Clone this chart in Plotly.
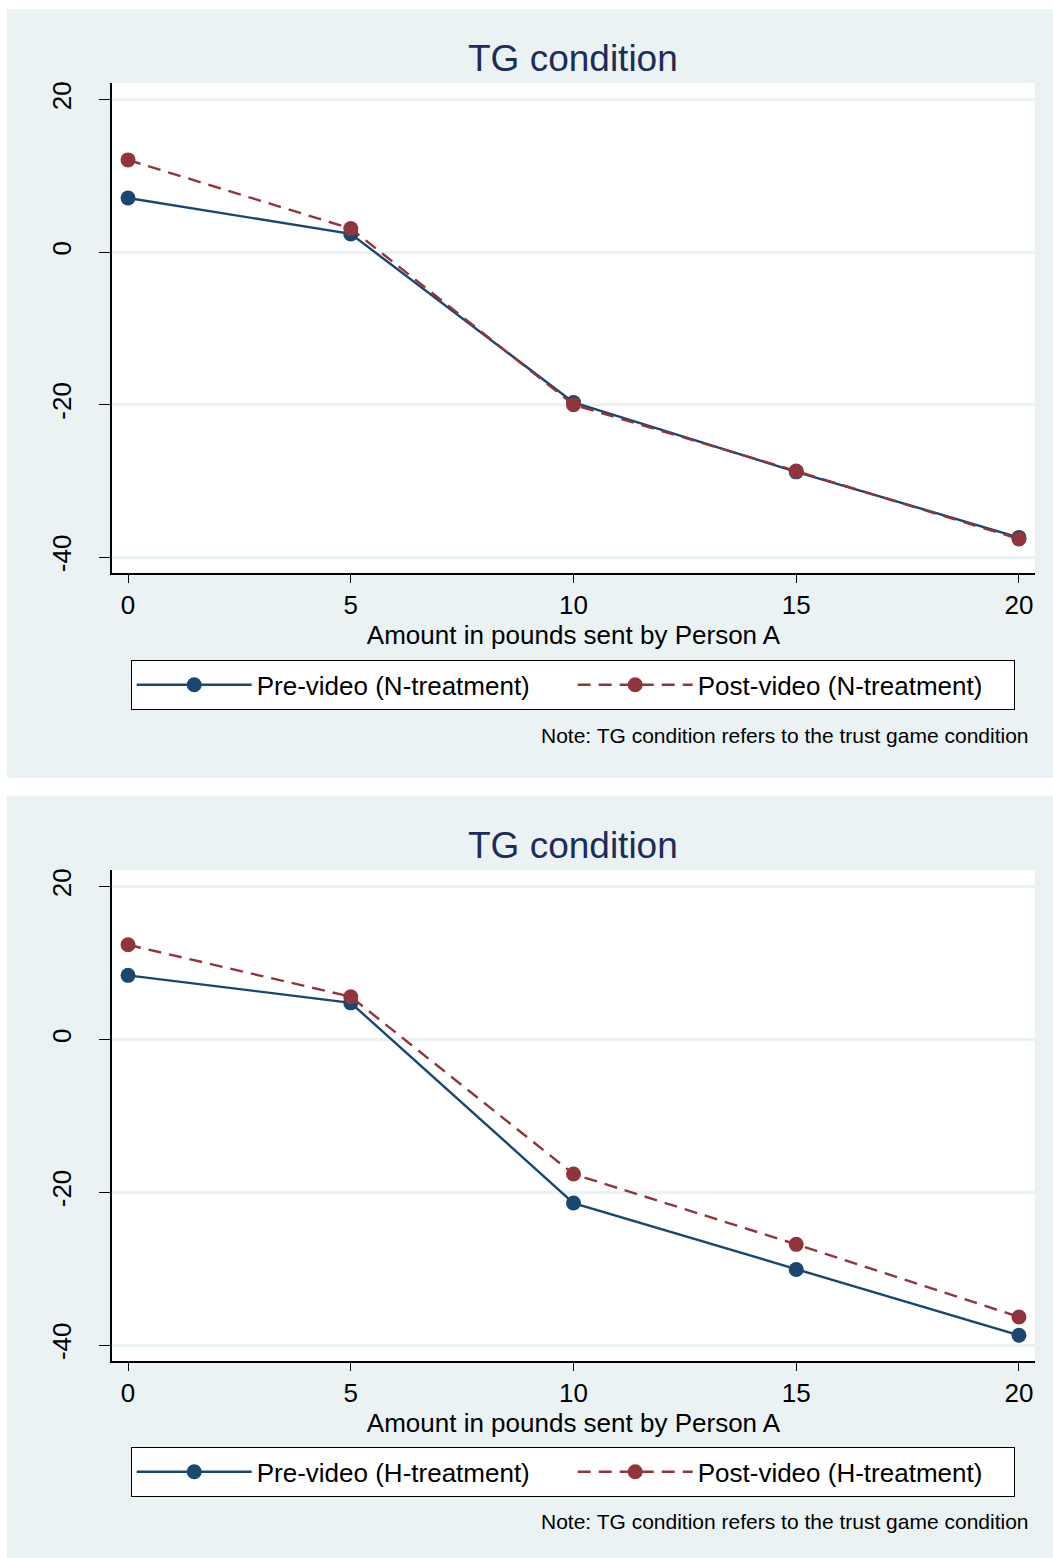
import plotly.graph_objects as go

amount = [0, 5, 10, 15, 20]
pre_n = [7.1, 2.4, -19.7, -28.8, -37.4]
post_n = [12.1, 3.1, -20.0, -28.7, -37.6]
pre_h = [8.4, 4.8, -21.4, -30.1, -38.7]
post_h = [12.4, 5.6, -17.6, -26.8, -36.3]

x_ticks = [0, 5, 10, 15, 20]
y_ticks = [-40, -20, 0, 20]
y_tick_labels = ["-40", "-20", "0", "20"]
title_text = "TG condition"
x_title = "Amount in pounds sent by Person A"
note_text = "Note: TG condition refers to the trust game condition"
names_top = ["Pre-video (N-treatment)", "Post-video (N-treatment)"]
names_bot = ["Pre-video (H-treatment)", "Post-video (H-treatment)"]

W, H = 1053, 1558
BLUE = "#1A476F"
RED = "#90353B"
BG = "#EAF2F3"
TITLE_C = "#1C2D57"
FONT = "Liberation Sans, Arial, sans-serif"

def px(v):
    return v / W

def py(v):
    return 1 - v / H

fig = go.Figure()

def add_pair(pre, post, names, xa, ya, leg):
    fig.add_trace(go.Scatter(x=amount, y=pre, mode="lines+markers", name=names[0],
                             line=dict(color=BLUE, width=2.4),
                             marker=dict(color=BLUE, size=15),
                             xaxis=xa, yaxis=ya, legend=leg))
    fig.add_trace(go.Scatter(x=amount, y=post, mode="lines+markers", name=names[1],
                             line=dict(color=RED, width=2.4, dash="13px,8px"),
                             marker=dict(color=RED, size=15),
                             xaxis=xa, yaxis=ya, legend=leg))

add_pair(pre_n, post_n, names_top, "x", "y", "legend")
add_pair(pre_h, post_h, names_bot, "x2", "y2", "legend2")

xdom = [px(112), px(1035)]
axis_common_x = dict(range=[-0.36, 20.36], tickvals=x_ticks, ticks="outside", ticklen=8,
                     tickcolor="black", showline=True, linecolor="black", linewidth=1.5,
                     showgrid=False, zeroline=False, tickfont=dict(size=26, color="black", family=FONT),
                     domain=xdom, fixedrange=True)
axis_common_y = dict(range=[-42.1, 22.2], tickvals=y_ticks, ticktext=y_tick_labels,
                     ticks="outside", ticklen=11, ticklabelstandoff=18,
                     tickcolor="black", showline=True, linecolor="black", linewidth=1.5,
                     showgrid=True, gridcolor=BG, gridwidth=2.5, zeroline=False, tickangle=-90,
                     tickfont=dict(size=26, color="black", family=FONT), fixedrange=True)

legend_common = dict(orientation="h", xanchor="center", yanchor="middle",
                     bgcolor="white", bordercolor="black", borderwidth=1.2,
                     font=dict(size=26, color="black", family=FONT),
                     entrywidth=311, entrywidthmode="pixels", itemwidth=115,
                     tracegroupgap=0)

fig.update_layout(
    width=W, height=H,
    margin=dict(l=0, r=0, t=0, b=0),
    paper_bgcolor="white", plot_bgcolor="white",
    font=dict(family=FONT, color="black"),
    xaxis=dict(**axis_common_x, anchor="y",
               title=dict(text=x_title, font=dict(size=26, color="black", family=FONT), standoff=0)),
    yaxis=dict(**axis_common_y, anchor="x", domain=[py(572), py(81)]),
    xaxis2=dict(**axis_common_x, anchor="y2",
                title=dict(text=x_title, font=dict(size=26, color="black", family=FONT), standoff=0)),
    yaxis2=dict(**axis_common_y, anchor="x2", domain=[py(1361), py(869)]),
    legend=dict(**legend_common, x=px(573), y=py(684)),
    legend2=dict(**legend_common, x=px(573), y=py(1472)),
    showlegend=True,
)

shapes = [
    dict(type="rect", xref="paper", yref="paper", x0=px(7), x1=1, y0=py(777), y1=py(7),
         fillcolor=BG, line=dict(width=0), layer="below"),
    dict(type="rect", xref="paper", yref="paper", x0=px(7), x1=1, y0=0, y1=py(795),
         fillcolor=BG, line=dict(width=0), layer="below"),
    dict(type="rect", xref="x domain", yref="y domain", x0=0, x1=1, y0=0, y1=1,
         fillcolor="white", line=dict(width=0), layer="below"),
    dict(type="rect", xref="x2 domain", yref="y2 domain", x0=0, x1=1, y0=0, y1=1,
         fillcolor="white", line=dict(width=0), layer="below"),
]
fig.update_layout(shapes=shapes)

annotations = []
for ty, ny in [(57, 734), (845, 1521)]:
    annotations.append(dict(text=title_text, xref="paper", yref="paper", x=px(573), y=py(ty),
                            xanchor="center", yanchor="middle", showarrow=False,
                            font=dict(size=37, color=TITLE_C, family=FONT)))
    annotations.append(dict(text=note_text, xref="paper", yref="paper", x=px(1031), y=py(ny),
                            xanchor="right", yanchor="middle", showarrow=False,
                            font=dict(size=21, color="black", family=FONT)))
fig.update_layout(annotations=annotations)

fig.write_html("out.html", config={"displayModeBar": False},
               post_script="document.body.style.margin='0';document.body.style.overflow='hidden';")
